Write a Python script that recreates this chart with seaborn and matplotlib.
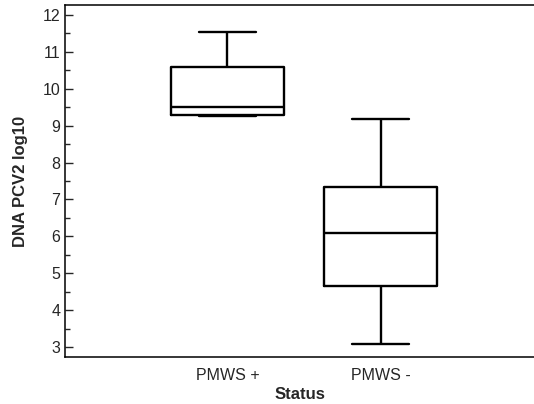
import numpy as np
import pandas as pd
import matplotlib
matplotlib.use("Agg")
import matplotlib.pyplot as plt
import seaborn as sns
from matplotlib.ticker import MultipleLocator

# values: min, Q1, median, Q3, max for each group
status = ["PMWS +", "PMWS -"]
pmws_pos = [9.25, 9.29, 9.51, 10.58, 11.53]
pmws_neg = [3.07, 4.65, 6.08, 7.33, 9.19]

df = pd.DataFrame({
    "Status": [status[0]] * len(pmws_pos) + [status[1]] * len(pmws_neg),
    "DNA PCV2 log10": pmws_pos + pmws_neg,
})

sns.set_style("ticks")
plt.rcParams["font.family"] = ["Liberation Sans", "DejaVu Sans"]

fig = plt.figure(figsize=(5.34, 4.04), dpi=100)
ax = fig.add_axes([65 / 534, 47 / 404, 1 - 65 / 534, 352 / 404])

line = dict(color="black", linewidth=1.7)
sns.boxplot(data=df, x="Status", y="DNA PCV2 log10", ax=ax, whis=np.inf,
            width=0.74, fill=False, color="black", linewidth=1.7,
            boxprops=line, medianprops=line, whiskerprops=line, capprops=line)

ax.set_xlim(-1.06, 2.0)
ax.set_ylim(2.73, 12.27)
ax.yaxis.set_major_locator(MultipleLocator(1))
ax.yaxis.set_minor_locator(MultipleLocator(0.5))
ax.tick_params(axis="y", which="major", direction="in", length=6, width=1, labelsize=11.5)
ax.tick_params(axis="y", which="minor", direction="in", length=3.5, width=1)
ax.tick_params(axis="x", length=0, labelsize=11.5, pad=8)

for s in ["left", "bottom", "top"]:
    ax.spines[s].set_linewidth(1.1)
    ax.spines[s].set_color("black")
ax.spines["right"].set_visible(False)

ax.set_xlabel("Status", fontsize=12, fontweight="bold", labelpad=3)
ax.set_ylabel("DNA PCV2 log10", fontsize=12, fontweight="bold", labelpad=10)

fig.savefig("out.png", dpi=100)
